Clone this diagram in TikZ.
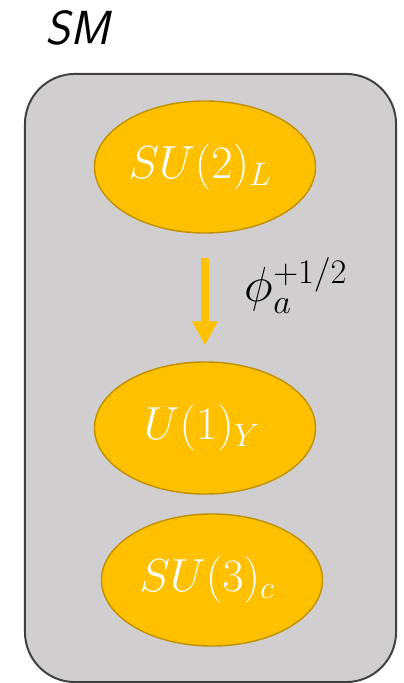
\RequirePackage{fix-cm}
\documentclass[tikz,border=0pt]{standalone}
\usepackage{xcolor}
\usepackage{tikz}
\usetikzlibrary{arrows.meta,positioning,shapes.geometric}

\definecolor{boxgray}{HTML}{D0CECF}
\definecolor{boxedge}{HTML}{404040}
\definecolor{gold}{HTML}{FFC000}
\definecolor{goldedge}{HTML}{BF9000}

\begin{document}
\begin{tikzpicture}[x=0.025cm, y=-0.025cm, every node/.style={align=center, inner sep=0pt}, group/.style={ellipse, draw=goldedge, line width=1pt, fill=gold, text=white, minimum width=5.525cm, minimum height=3.3cm, font=\fontsize{33}{38}\selectfont}, >={Triangle[width=0.6cm, length=0.6cm]}]
\useasboundingbox (0,0) rectangle (403,683);
\node[draw=boxedge, line width=1.4pt, fill=boxgray, rounded corners=1.25cm, minimum width=9.275cm, minimum height=15.2cm] (sm) at (210.5,378) {};
\node[font=\fontsize{34}{38}\selectfont\sffamily\itshape] (smlabel) at (78,28) {SM};
\node[group] (su2) at (205,167) {$SU(2)_L$\hspace*{0.25cm}};
\node[group] (u1) at (205,428) {$U(1)_Y$\hspace*{0.15cm}};
\node[group] (su3) at (212,580) {$SU(3)_c$\hspace*{0.25cm}};
\draw[->, gold, line width=0.2cm, shorten <=0.6cm, shorten >=0.4cm] (su2) -- (u1);
\node[font=\fontsize{35}{40}\selectfont] (phi) at (296,286) {$\phi_a^{+1/2}$};
\end{tikzpicture}
\end{document}
